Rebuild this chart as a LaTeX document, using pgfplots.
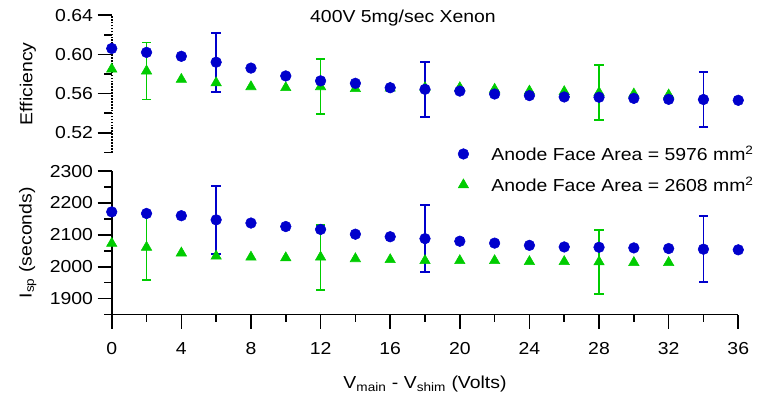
\documentclass[border=0pt]{standalone}
\usepackage{fontspec}
\setmainfont{Liberation Sans}[FakeStretch=1.12]
\usepackage{pgfplots}
\pgfplotsset{compat=1.18}
\definecolor{cblue}{RGB}{0,0,204}
\definecolor{cgreen}{RGB}{0,204,0}

\begin{document}
\begin{tikzpicture}[font=\fontsize{13}{15.6}\selectfont]
\path[use as bounding box] (0,0) rectangle (570pt,295.5pt);
\pgfplotsset{
 common/.style={
  scale only axis, width=469.9pt,
  xmin=0, xmax=36,
  tick align=outside,
  major tick length=10.5pt, minor tick length=5.5pt,
  tick style={black, line width=1.2pt},
  axis line style={-, line width=1.2pt},
  /pgf/number format/assume math mode=true,
  /pgf/number format/1000 sep={},
  scaled ticks=false,
  tick label style={font=\fontsize{13}{15.6}\selectfont},
  label style={font=\fontsize{13}{15.6}\selectfont},
  clip=false,
 },
 limg/.style={legend image code/.code={\draw[##1] plot coordinates {(8.5pt,0pt)};
    \path (0pt,0pt) (27.25pt,0pt);}},
 gstyle/.style={only marks, mark=triangle*, mark size=4.5pt, color=cgreen, limg},
 bstyle/.style={only marks, mark=*, mark size=4pt, color=cblue, limg},
 ebars/.style={error bars/.cd, y dir=both, y explicit,
   error bar style={line width=1.3pt, solid, #1},
   error mark=|, error mark options={mark size=3.5pt, line width=1.3pt, solid, #1},
   /pgfplots/.cd},
}

% ---------------- top panel: efficiency ----------------
\begin{axis}[common, at={(83.8pt,181.1pt)}, anchor=south west, height=103.1pt,
  ymin=0.50, ymax=0.64,
  axis x line=none, xtick=\empty,
  axis y line*=left,
  y axis line style={densely dotted},
  ytick={0.52,0.56,0.60,0.64}, minor ytick={0.50,0.54,0.58,0.62},
  yticklabel style={/pgf/number format/.cd, fixed, fixed zerofill, precision=2},
  ylabel={Efficiency},
  ylabel style={at={(axis description cs:-0.134,0.5)}, anchor=center},
]
\addplot[gstyle] coordinates {
 (0,0.585) (4,0.5745) (6,0.571) (8,0.567) (10,0.566) (14,0.565) (16,0.5655)
 (18,0.566) (20,0.566) (22,0.5644) (24,0.5626) (26,0.562) (30,0.5596) (32,0.5586)
};
\addplot[gstyle, forget plot, ebars=cgreen] coordinates {
 (2,0.583) +- (0,0.029)
 (12,0.567) +- (0,0.028)
 (28,0.561) +- (0,0.028)
};
\addplot[bstyle] coordinates {
 (0,0.606) (2,0.602) (4,0.598) (8,0.586) (10,0.578) (12,0.573) (14,0.5705)
 (16,0.566) (20,0.5626) (22,0.5596) (24,0.558) (26,0.5566) (28,0.5563)
 (30,0.5552) (32,0.5542) (36,0.5532)
};
\addplot[bstyle, forget plot, ebars=cblue] coordinates {
 (6,0.592) +- (0,0.030)
 (18,0.5644) +- (0,0.028)
 (34,0.554) +- (0,0.028)
};
\end{axis}

% ---------------- bottom panel: Isp ----------------
\begin{axis}[common, at={(83.8pt,59.6pt)}, anchor=south west, height=107.6pt,
  ymin=1850, ymax=2300,
  axis x line*=bottom, axis y line*=left,
  xtick={0,4,...,36}, minor xtick={2,6,...,34},
  xticklabel style={yshift=-7pt},
  ytick={1900,2000,...,2300}, minor ytick={1850,1950,...,2250},
  xlabel={V\textsubscript{main} - V\textsubscript{shim} (Volts)},
  ylabel={I\textsubscript{sp} (seconds)},
  xlabel style={at={(axis description cs:0.5,-0.484)}, anchor=center},
  ylabel style={at={(axis description cs:-0.134,0.5)}, anchor=center},
  legend style={draw=none, fill=none, at={(axis description cs:0.536,1.215)},
    anchor=north west, cells={anchor=west}, row sep=7pt,
    font=\fontsize{13}{15.6}\selectfont},
  reverse legend,
]
\addplot[gstyle] coordinates {
 (0,2073) (4,2043) (6,2033) (8,2030) (10,2028) (14,2025) (16,2022)
 (18,2019) (20,2019) (22,2019) (24,2016) (26,2016) (30,2013) (32,2013)
};
\addlegendentry{Anode Face Area = 2608 mm\textsuperscript{2}}
\addplot[gstyle, forget plot, ebars=cgreen] coordinates {
 (2,2061) +- (0,103)
 (12,2030) +- (0,102)
 (28,2015) +- (0,100)
};
\addplot[bstyle] coordinates {
 (0,2172) (2,2167) (4,2160) (8,2137) (10,2126) (12,2117) (14,2102)
 (16,2094) (20,2080) (22,2074) (24,2067) (26,2062) (28,2061)
 (30,2059) (32,2057) (36,2053)
};
\addlegendentry{Anode Face Area = 5976 mm\textsuperscript{2}}
\addplot[bstyle, forget plot, ebars=cblue] coordinates {
 (6,2147) +- (0,107)
 (18,2088) +- (0,105)
 (34,2055) +- (0,103)
};
\end{axis}

\node at (302.25pt,282pt) {400V 5mg/sec Xenon};
\end{tikzpicture}
\end{document}
